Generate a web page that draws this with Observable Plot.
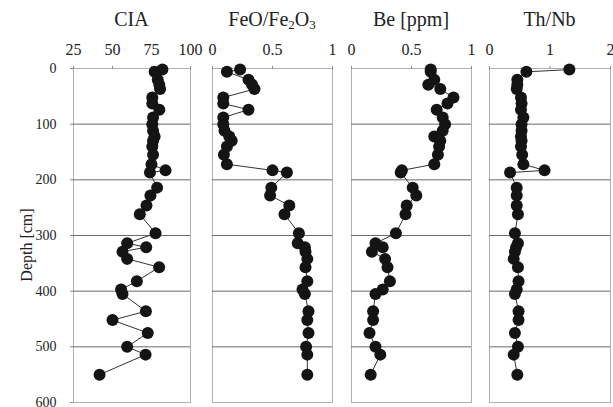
<!DOCTYPE html>
<html>
<head>
<meta charset="utf-8">
<script src="https://cdn.jsdelivr.net/npm/d3@7"></script>
<script src="https://cdn.jsdelivr.net/npm/@observablehq/plot@0.6"></script>
<style>
  body { margin: 0; background: #fff; }
  #wrap { position: relative; width: 613px; height: 407px; font-family: "Liberation Serif", "Times New Roman", Times, "DejaVu Serif", serif; color: #222; }
  .panel { position: absolute; top: 0; }
  .panel text { font-family: "Liberation Serif", "Times New Roman", Times, "DejaVu Serif", serif; }
  .title { position: absolute; top: 9px; width: 200px; text-align: center; font-size: 20px; line-height: 20px; white-space: nowrap; }
  .title sub { font-size: 13px; vertical-align: -3px; line-height: 0; }
  .ylab { position: absolute; font-size: 16px; line-height: 16px; white-space: nowrap; transform: translate(-50%, -50%) rotate(-90deg); }
</style>
</head>
<body>
<div id="wrap"></div>
<script>
// ---- data ----
const depth = [2,6,20,29,37,52,63,74,88,100,112,122,130,140,155,172,183,187,214,228,246,262,296,314,321,329,342,357,382,397,405,436,452,475,500,514,550];
const cia   = [82,77,79,80,80.5,75.5,75.5,80,76,75.5,76,77,76,75.5,76,75,84,74,78.6,74.3,71.8,67.5,77.6,59.4,71.6,56.4,59.4,79.9,65.6,55.5,56.4,71.4,50,72.6,59.4,71.2,41.7];
const feo   = [0.23,0.12,0.30,0.33,0.35,0.09,0.09,0.30,0.09,0.09,0.10,0.14,0.16,0.12,0.095,0.12,0.50,0.62,0.49,0.48,0.64,0.60,0.72,0.71,0.77,0.775,0.79,0.775,0.79,0.75,0.77,0.80,0.79,0.80,0.78,0.79,0.79];
const be    = [0.66,0.66,0.69,0.64,0.74,0.85,0.80,0.71,0.76,0.78,0.76,0.69,0.74,0.73,0.72,0.69,0.42,0.41,0.51,0.54,0.46,0.45,0.37,0.20,0.26,0.17,0.28,0.30,0.32,0.26,0.20,0.18,0.18,0.15,0.20,0.24,0.16];
const thnb  = [1.32,0.61,0.46,0.46,0.45,0.52,0.53,0.52,0.56,0.53,0.53,0.52,0.53,0.52,0.54,0.56,0.91,0.34,0.45,0.45,0.45,0.47,0.42,0.47,0.44,0.42,0.40,0.47,0.48,0.45,0.42,0.48,0.48,0.42,0.47,0.40,0.46];

const ciaTicks   = [25, 50, 75, 100];
const feoTicks   = [0, 0.5, 1];
const beTicks    = [0, 0.5, 1];
const thnbTicks  = [0, 1, 2];
const depthTicks = [0, 100, 200, 300, 400, 500, 600];
const gridDepths = [100, 200, 300, 400, 500];

const titles = ["CIA", "FeO/Fe<sub>2</sub>O<sub>3</sub>", "Be [ppm]", "Th/Nb"];
const yLabel = "Depth [cm]";

// ---- layout ----
const serif = "'Liberation Serif', 'Times New Roman', Times, 'DejaVu Serif', serif";
const panels = [
  {values: cia,  domain: [25, 100], ticks: ciaTicks,  left: 0,   width: 200, ml: 73, mr: 10, yaxis: true},
  {values: feo,  domain: [0, 1],    ticks: feoTicks,  left: 200, width: 140, ml: 12, mr: 8},
  {values: be,   domain: [0, 1],    ticks: beTicks,   left: 340, width: 140, ml: 11, mr: 9},
  {values: thnb, domain: [0, 2],    ticks: thnbTicks, left: 475, width: 138, ml: 14, mr: 3}
];

const wrap = document.getElementById("wrap");
const fmt = d => String(d);

panels.forEach((p, i) => {
  const data = depth.map((d, j) => ({depth: d, v: p.values[j]}));
  const marks = [
    Plot.frame({stroke: "#b0b0b0"}),
    Plot.gridY(gridDepths, {stroke: "#6a6a6a", strokeOpacity: 1, strokeWidth: 1}),
    Plot.axisX(p.ticks, {anchor: "top", tickSize: 3, tickPadding: 11, label: null, fontSize: 16, stroke: "#888", tickFormat: fmt}),
    Plot.line(data, {x: "v", y: "depth", stroke: "#333", strokeWidth: 1}),
    Plot.dot(data, {x: "v", y: "depth", r: 6, fill: "#141414", stroke: "none"})
  ];
  if (p.yaxis) {
    marks.push(Plot.axisY(depthTicks, {anchor: "left", tickSize: 3, tickPadding: 14, label: null, fontSize: 14, stroke: "#888", tickFormat: fmt}));
  }
  const chart = Plot.plot({
    width: p.width,
    height: 407,
    marginTop: 68,
    marginBottom: 5,
    marginLeft: p.ml,
    marginRight: p.mr,
    style: {fontFamily: serif, color: "#222", background: "transparent", overflow: "visible"},
    x: {domain: p.domain, axis: null},
    y: {domain: [0, 600], reverse: true, axis: null},
    marks
  });
  chart.classList.add("panel");
  chart.style.left = p.left + "px";
  wrap.appendChild(chart);

  const cx = p.left + p.ml + (p.width - p.ml - p.mr) / 2;
  const t = document.createElement("div");
  t.className = "title";
  t.innerHTML = titles[i];
  t.style.left = (cx - 100) + "px";
  wrap.appendChild(t);
});

const yl = document.createElement("div");
yl.className = "ylab";
yl.textContent = yLabel;
yl.style.left = "27px";
yl.style.top = "245px";
wrap.appendChild(yl);
</script>
</body>
</html>
